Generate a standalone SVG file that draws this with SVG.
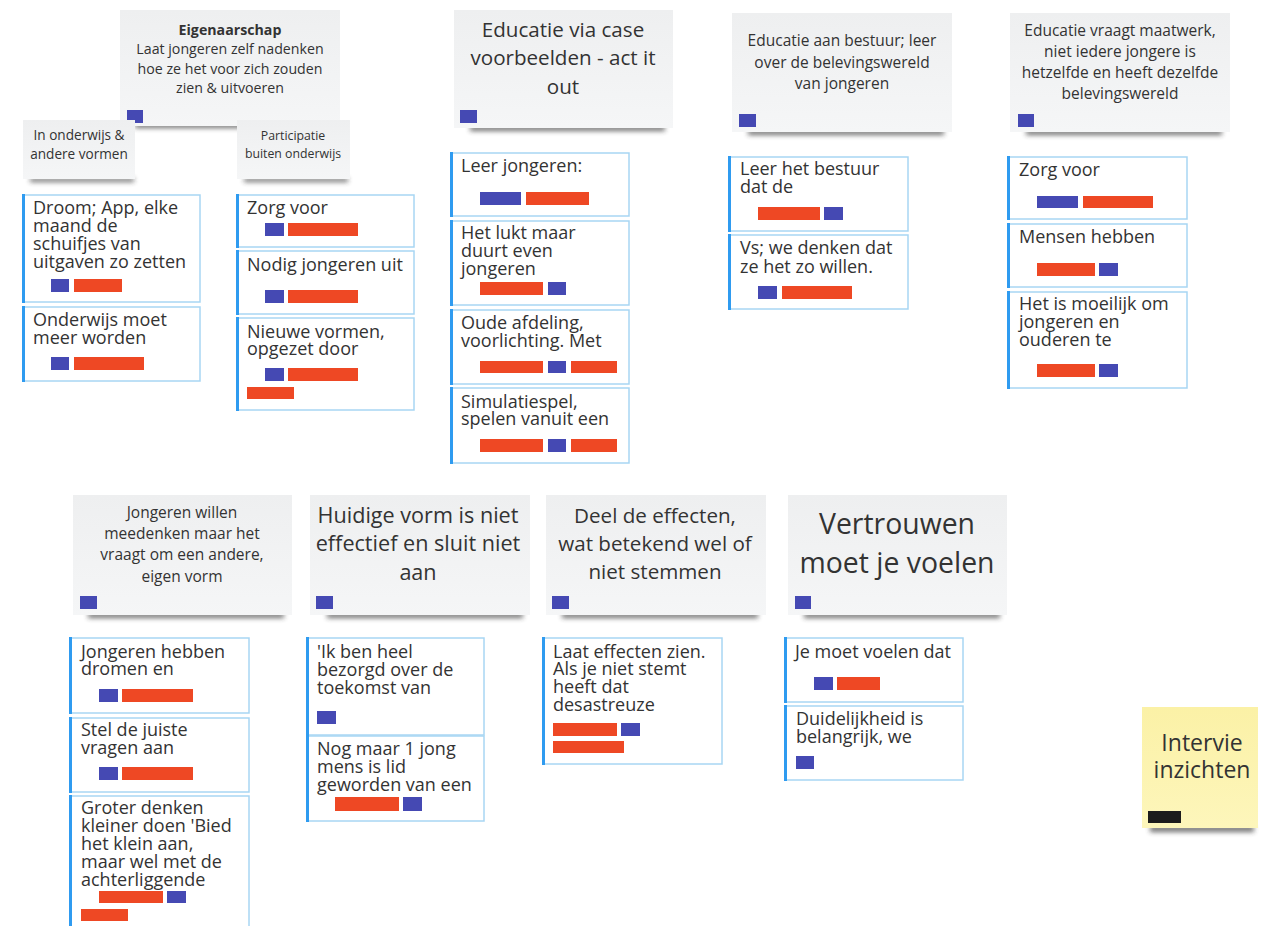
<svg xmlns="http://www.w3.org/2000/svg" width="1268" height="926" viewBox="0 0 1268 926">
<defs>
<filter id="blur" x="-20%" y="-200%" width="140%" height="500%"><feGaussianBlur stdDeviation="2.5"/></filter>
<linearGradient id="gs" x1="0" y1="0" x2="0" y2="1"><stop offset="0" stop-color="#eeeff0"/><stop offset="1" stop-color="#f5f6f7"/></linearGradient>
<linearGradient id="gy" x1="0" y1="0" x2="0" y2="1"><stop offset="0" stop-color="#fbf1a6"/><stop offset="1" stop-color="#fdf6bb"/></linearGradient>
</defs>
<style>
.sh{fill:#333;opacity:0.7;filter:url(#blur)}
.st{fill:url(#gs)}
.sy{fill:url(#gy)}
.card{fill:#fff;stroke:#a8d6f3;stroke-width:1.5}
.bar{fill:#2f9bf0}
.b{fill:#4549b3}
.r{fill:#ee4824}
.k{fill:#1c1c1c}
text{font-family:"Open Sans","Noto Sans","Liberation Sans",sans-serif;fill:#333}
.ct{font-size:18px}
.s14{font-size:14.2px;text-anchor:middle}
.s135{font-size:13.6px;text-anchor:middle}
.s12{font-size:12.3px;text-anchor:middle}
.s15{font-size:15.5px;text-anchor:middle}
.s20{font-size:20.6px;text-anchor:middle}
.s215{font-size:21.6px;text-anchor:middle}
.s28{font-size:28.4px;text-anchor:middle}
.s23{font-size:23px;text-anchor:middle}
</style>
<rect width="1268" height="926" fill="#fff"/>

<g id="connectors"></g>

<!-- Sticky: Eigenaarschap -->
<g id="n-eigenaarschap">
<rect class="sh" x="135" y="123" width="200" height="5"/>
<rect class="st" x="120" y="10" width="220" height="116"/>
<text class="s14" x="230" y="35" font-weight="bold">Eigenaarschap</text>
<text class="s14" x="230" y="54">Laat jongeren zelf nadenken</text>
<text class="s14" x="230" y="74">hoe ze het voor zich zouden</text>
<text class="s14" x="230" y="93">zien &amp; uitvoeren</text>
<rect class="b" x="127" y="110" width="16" height="13"/>
</g>

<g id="n-onderwijs">
<rect class="sh" x="30" y="178" width="104" height="4"/>
<rect class="st" x="23" y="120" width="112" height="59"/>
<text class="s135" x="79" y="140">In onderwijs &amp;</text>
<text class="s135" x="79" y="159">andere vormen</text>
</g>

<g id="n-participatie">
<rect class="sh" x="244" y="178" width="104" height="4"/>
<rect class="st" x="237" y="120" width="113" height="59"/>
<text class="s12" x="293" y="140">Participatie</text>
<text class="s12" x="293" y="158">buiten onderwijs</text>
</g>

<!-- Cards column 1 -->
<g id="c-droom">
<rect class="card" x="23" y="195" width="177" height="107"/>
<rect class="bar" x="22" y="194" width="3" height="109"/>
<text class="ct" x="33" y="214">Droom; App, elke</text>
<text class="ct" x="33" y="232">maand de</text>
<text class="ct" x="33" y="250">schuifjes van</text>
<text class="ct" x="33" y="268">uitgaven zo zetten</text>
<rect class="b" x="51" y="279" width="18" height="13"/>
<rect class="r" x="74" y="279" width="48" height="13"/>
</g>
<g id="c-onderwijs-moet">
<rect class="card" x="23" y="307" width="177" height="74"/>
<rect class="bar" x="22" y="306" width="3" height="76"/>
<text class="ct" x="33" y="326">Onderwijs moet</text>
<text class="ct" x="33" y="344">meer worden</text>
<rect class="b" x="51" y="357" width="18" height="13"/>
<rect class="r" x="74" y="357" width="70" height="13"/>
</g>

<!-- Cards column 2 -->
<g id="c-zorg1">
<rect class="card" x="237" y="195" width="177" height="52"/>
<rect class="bar" x="236" y="194" width="3" height="54"/>
<text class="ct" x="247" y="214">Zorg voor</text>
<rect class="b" x="265" y="223" width="19" height="13"/>
<rect class="r" x="288" y="223" width="70" height="13"/>
</g>
<g id="c-nodig">
<rect class="card" x="237" y="251" width="177" height="63"/>
<rect class="bar" x="236" y="250" width="3" height="65"/>
<text class="ct" x="247" y="271">Nodig jongeren uit</text>
<rect class="b" x="265" y="290" width="19" height="13"/>
<rect class="r" x="288" y="290" width="70" height="13"/>
</g>
<g id="c-nieuwe">
<rect class="card" x="237" y="318" width="177" height="92"/>
<rect class="bar" x="236" y="317" width="3" height="94"/>
<text class="ct" x="247" y="338">Nieuwe vormen,</text>
<text class="ct" x="247" y="355">opgezet door</text>
<rect class="b" x="265" y="368" width="19" height="13"/>
<rect class="r" x="288" y="368" width="70" height="13"/>
<rect class="r" x="247" y="387" width="47" height="12"/>
</g>

<!-- Sticky: Educatie via case -->
<g id="n-educatie-case">
<rect class="sh" x="470" y="126" width="195" height="5"/>
<rect class="st" x="454" y="10" width="219" height="118"/>
<text class="s20" x="563" y="37">Educatie via case</text>
<text class="s20" x="563" y="65">voorbeelden - act it</text>
<text class="s20" x="563" y="94">out</text>
<rect class="b" x="460" y="110" width="17" height="13"/>
</g>

<g id="c-leer-jongeren">
<rect class="card" x="451" y="153" width="178" height="63"/>
<rect class="bar" x="450" y="152" width="3" height="65"/>
<text class="ct" x="461" y="172">Leer jongeren:</text>
<rect class="b" x="480" y="192" width="41" height="13"/>
<rect class="r" x="526" y="192" width="63" height="13"/>
</g>
<g id="c-lukt">
<rect class="card" x="451" y="221" width="178" height="84"/>
<rect class="bar" x="450" y="220" width="3" height="86"/>
<text class="ct" x="461" y="239">Het lukt maar</text>
<text class="ct" x="461" y="257">duurt even</text>
<text class="ct" x="461" y="275">jongeren</text>
<rect class="r" x="480" y="282" width="63" height="13"/>
<rect class="b" x="548" y="282" width="18" height="13"/>
</g>
<g id="c-oude">
<rect class="card" x="451" y="310" width="178" height="74"/>
<rect class="bar" x="450" y="309" width="3" height="76"/>
<text class="ct" x="461" y="329">Oude afdeling,</text>
<text class="ct" x="461" y="347">voorlichting. Met</text>
<rect class="r" x="480" y="361" width="63" height="12"/>
<rect class="b" x="548" y="361" width="18" height="12"/>
<rect class="r" x="571" y="361" width="46" height="12"/>
</g>
<g id="c-simulatie">
<rect class="card" x="451" y="388" width="178" height="75"/>
<rect class="bar" x="450" y="387" width="3" height="77"/>
<text class="ct" x="461" y="408">Simulatiespel,</text>
<text class="ct" x="461" y="425">spelen vanuit een</text>
<rect class="r" x="480" y="439" width="63" height="13"/>
<rect class="b" x="548" y="439" width="18" height="13"/>
<rect class="r" x="571" y="439" width="46" height="13"/>
</g>

<!-- Sticky: Educatie aan bestuur -->
<g id="n-educatie-bestuur">
<rect class="sh" x="748" y="130" width="196" height="5"/>
<rect class="st" x="732" y="13" width="220" height="119"/>
<text class="s15" x="842" y="46">Educatie aan bestuur; leer</text>
<text class="s15" x="842" y="68">over de belevingswereld</text>
<text class="s15" x="842" y="89">van jongeren</text>
<rect class="b" x="739" y="114" width="17" height="13"/>
</g>
<g id="c-leer-bestuur">
<rect class="card" x="729" y="157" width="179" height="74"/>
<rect class="bar" x="728" y="156" width="3" height="76"/>
<text class="ct" x="740" y="175">Leer het bestuur</text>
<text class="ct" x="740" y="193">dat de</text>
<rect class="r" x="758" y="207" width="62" height="13"/>
<rect class="b" x="824" y="207" width="19" height="13"/>
</g>
<g id="c-vs">
<rect class="card" x="729" y="235" width="179" height="74"/>
<rect class="bar" x="728" y="234" width="3" height="76"/>
<text class="ct" x="740" y="254">Vs; we denken dat</text>
<text class="ct" x="740" y="273">ze het zo willen.</text>
<rect class="b" x="758" y="286" width="19" height="13"/>
<rect class="r" x="782" y="286" width="70" height="13"/>
</g>

<!-- Sticky: Educatie vraagt maatwerk -->
<g id="n-maatwerk">
<rect class="sh" x="1026" y="130" width="196" height="5"/>
<rect class="st" x="1010" y="13" width="220" height="119"/>
<text class="s15" x="1120" y="36">Educatie vraagt maatwerk,</text>
<text class="s15" x="1120" y="57">niet iedere jongere is</text>
<text class="s15" x="1120" y="78">hetzelfde en heeft dezelfde</text>
<text class="s15" x="1120" y="99">belevingswereld</text>
<rect class="b" x="1018" y="114" width="16" height="13"/>
</g>
<g id="c-zorg2">
<rect class="card" x="1008" y="157" width="179" height="62"/>
<rect class="bar" x="1007" y="156" width="3" height="64"/>
<text class="ct" x="1019" y="176">Zorg voor</text>
<rect class="b" x="1037" y="196" width="41" height="12"/>
<rect class="r" x="1083" y="196" width="70" height="12"/>
</g>
<g id="c-mensen">
<rect class="card" x="1008" y="224" width="179" height="63"/>
<rect class="bar" x="1007" y="223" width="3" height="65"/>
<text class="ct" x="1019" y="243">Mensen hebben</text>
<rect class="r" x="1037" y="263" width="58" height="13"/>
<rect class="b" x="1099" y="263" width="19" height="13"/>
</g>
<g id="c-moeilijk">
<rect class="card" x="1008" y="292" width="179" height="96"/>
<rect class="bar" x="1007" y="291" width="3" height="98"/>
<text class="ct" x="1019" y="310">Het is moeilijk om</text>
<text class="ct" x="1019" y="328">jongeren en</text>
<text class="ct" x="1019" y="346">ouderen te</text>
<rect class="r" x="1037" y="364" width="58" height="13"/>
<rect class="b" x="1099" y="364" width="19" height="13"/>
</g>

<!-- Bottom row -->
<g id="n-meedenken">
<rect class="sh" x="88" y="613" width="196" height="5"/>
<rect class="st" x="73" y="495" width="219" height="120"/>
<text class="s15" x="182" y="518">Jongeren willen</text>
<text class="s15" x="182" y="539">meedenken maar het</text>
<text class="s15" x="182" y="560">vraagt om een andere,</text>
<text class="s15" x="182" y="582">eigen vorm</text>
<rect class="b" x="80" y="596" width="17" height="13"/>
</g>
<g id="c-dromen">
<rect class="card" x="70" y="638" width="179" height="75"/>
<rect class="bar" x="69" y="637" width="3" height="77"/>
<text class="ct" x="81" y="658">Jongeren hebben</text>
<text class="ct" x="81" y="675">dromen en</text>
<rect class="b" x="99" y="689" width="19" height="13"/>
<rect class="r" x="122" y="689" width="71" height="13"/>
</g>
<g id="c-stel">
<rect class="card" x="70" y="718" width="179" height="74"/>
<rect class="bar" x="69" y="717" width="3" height="76"/>
<text class="ct" x="81" y="736">Stel de juiste</text>
<text class="ct" x="81" y="754">vragen aan</text>
<rect class="b" x="99" y="767" width="19" height="13"/>
<rect class="r" x="122" y="767" width="71" height="13"/>
</g>
<g id="c-groter">
<rect class="card" x="70" y="796" width="179" height="140"/>
<rect class="bar" x="69" y="795" width="3" height="142"/>
<text class="ct" x="81" y="814">Groter denken</text>
<text class="ct" x="81" y="832">kleiner doen 'Bied</text>
<text class="ct" x="81" y="850">het klein aan,</text>
<text class="ct" x="81" y="868">maar wel met de</text>
<text class="ct" x="81" y="886">achterliggende</text>
<rect class="r" x="99" y="891" width="64" height="12"/>
<rect class="b" x="167" y="891" width="19" height="12"/>
<rect class="r" x="81" y="909" width="47" height="12"/>
</g>

<g id="n-huidige">
<rect class="sh" x="327" y="613" width="196" height="5"/>
<rect class="st" x="310" y="495" width="220" height="120"/>
<text class="s215" x="418" y="523">Huidige vorm is niet</text>
<text class="s215" x="418" y="551">effectief en sluit niet</text>
<text class="s215" x="418" y="580">aan</text>
<rect class="b" x="316" y="596" width="17" height="13"/>
</g>
<g id="c-bezorgd">
<rect class="card" x="307" y="638" width="177" height="97"/>
<rect class="bar" x="306" y="637" width="3" height="99"/>
<text class="ct" x="317" y="658">'Ik ben heel</text>
<text class="ct" x="317" y="676">bezorgd over de</text>
<text class="ct" x="317" y="694">toekomst van</text>
<rect class="b" x="317" y="711" width="19" height="13"/>
</g>
<g id="c-nog-maar">
<rect class="card" x="307" y="736" width="177" height="85"/>
<rect class="bar" x="306" y="735" width="3" height="87"/>
<text class="ct" x="317" y="755">Nog maar 1 jong</text>
<text class="ct" x="317" y="773">mens is lid</text>
<text class="ct" x="317" y="791">geworden van een</text>
<rect class="r" x="335" y="797" width="64" height="14"/>
<rect class="b" x="403" y="797" width="19" height="14"/>
</g>

<g id="n-deel">
<rect class="sh" x="562" y="613" width="196" height="5"/>
<rect class="st" x="546" y="495" width="220" height="120"/>
<text class="s20" x="655" y="523">Deel de effecten,</text>
<text class="s20" x="655" y="551">wat betekend wel of</text>
<text class="s20" x="655" y="579">niet stemmen</text>
<rect class="b" x="552" y="596" width="17" height="13"/>
</g>
<g id="c-laat">
<rect class="card" x="543" y="638" width="179" height="126"/>
<rect class="bar" x="542" y="637" width="3" height="128"/>
<text class="ct" x="553" y="658">Laat effecten zien.</text>
<text class="ct" x="553" y="675">Als je niet stemt</text>
<text class="ct" x="553" y="693">heeft dat</text>
<text class="ct" x="553" y="711">desastreuze</text>
<rect class="r" x="553" y="723" width="64" height="13"/>
<rect class="b" x="621" y="723" width="19" height="13"/>
<rect class="r" x="553" y="741" width="71" height="12"/>
</g>

<g id="n-vertrouwen">
<rect class="sh" x="804" y="613" width="196" height="5"/>
<rect class="st" x="788" y="495" width="219" height="120"/>
<text class="s28" x="897" y="534">Vertrouwen</text>
<text class="s28" x="897" y="573">moet je voelen</text>
<rect class="b" x="795" y="596" width="16" height="13"/>
</g>
<g id="c-je-moet">
<rect class="card" x="785" y="638" width="178" height="64"/>
<rect class="bar" x="784" y="637" width="3" height="66"/>
<text class="ct" x="795" y="658">Je moet voelen dat</text>
<rect class="b" x="814" y="677" width="19" height="13"/>
<rect class="r" x="837" y="677" width="43" height="13"/>
</g>
<g id="c-duidelijk">
<rect class="card" x="785" y="706" width="178" height="74"/>
<rect class="bar" x="784" y="705" width="3" height="76"/>
<text class="ct" x="796" y="725">Duidelijkheid is</text>
<text class="ct" x="796" y="743">belangrijk, we</text>
<rect class="b" x="796" y="756" width="18" height="13"/>
</g>

<g id="n-interview">
<rect class="sh" x="1150" y="826" width="104" height="6"/>
<rect class="sy" x="1142" y="707" width="116" height="121"/>
<text class="s23" x="1202" y="751">Intervie</text>
<text class="s23" x="1202" y="778">inzichten</text>
<rect class="k" x="1148" y="811" width="33" height="12"/>
</g>
</svg>
